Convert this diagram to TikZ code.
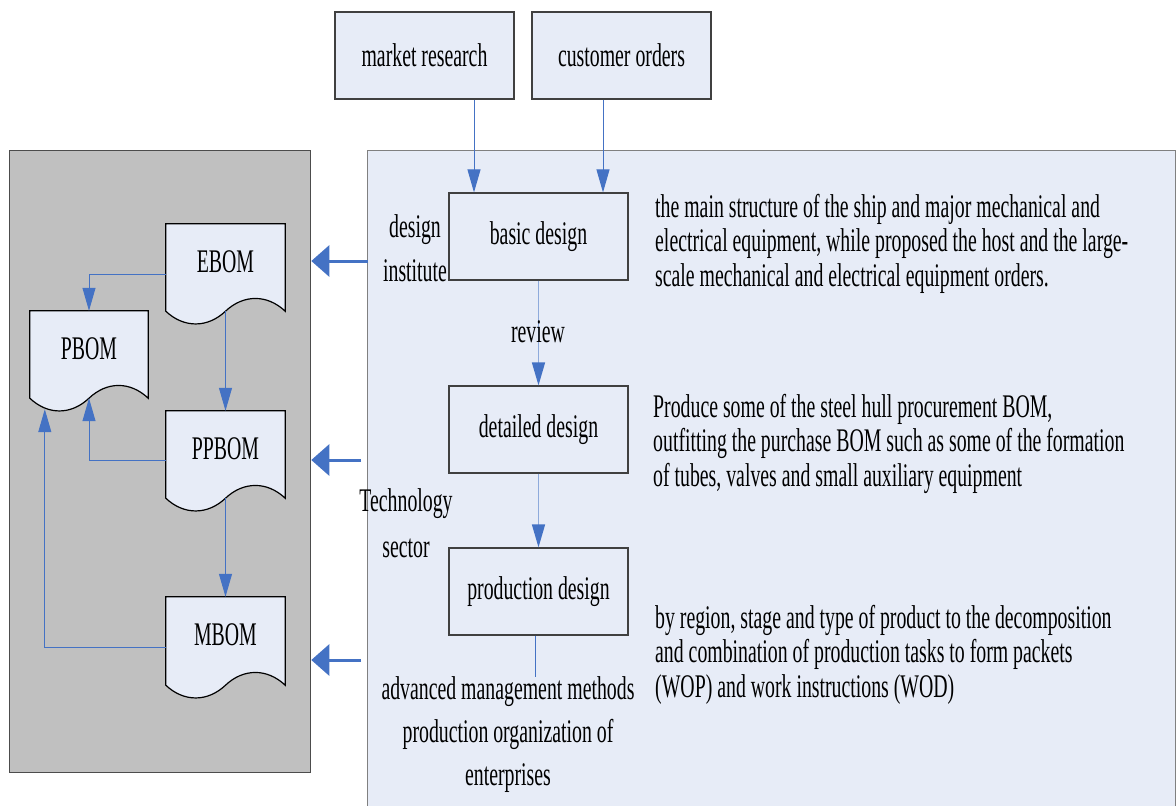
\documentclass[tikz,border=0pt]{standalone}
\usepackage{fontspec}
\setmainfont{Liberation Serif}[FakeStretch=0.6]
\usetikzlibrary{arrows.meta,calc}
\definecolor{boxfill}{RGB}{231,236,247}
\definecolor{grayfill}{RGB}{192,192,192}
\definecolor{arrowblue}{RGB}{68,114,196}
\definecolor{lightblue}{RGB}{142,170,219}
\definecolor{boxline}{RGB}{64,64,64}
\pgfdeclarelayer{background}
\pgfsetlayers{background,main}
\tikzset{
  txt/.style={font=\fontsize{33pt}{35pt}\selectfont},
  box/.style={txt, draw=boxline, line width=1.2pt, fill=boxfill, minimum width=179pt, minimum height=87pt, inner sep=0pt},
  docnode/.style={txt, minimum width=119pt, minimum height=87pt, inner sep=0pt, text depth=12pt},
  docshape/.style={draw=black, line width=1.2pt, fill=boxfill},
  conn/.style={draw=arrowblue, line width=1pt, -{Triangle[length=23pt,width=13pt,color=arrowblue]}},
  plainline/.style={draw=arrowblue, line width=1pt},
  bigarrow/.style={draw=arrowblue, line width=3pt, -{Triangle[length=18pt,width=31pt]}},
  lbl/.style={align=center, inner sep=0pt},
  para/.style={txt, align=left, anchor=base west, inner sep=0pt, font=\fontsize{33pt}{34.5pt}\selectfont},
}
\newcommand\docwave[1]{\path[docshape] (#1.north west) -- (#1.north east) -- (#1.south east)
  .. controls +(-18,-17) and +(18,-17) .. (#1.south)
  .. controls +(-18,17) and +(18,17) .. (#1.south west) -- cycle;}
\begin{document}
\begin{tikzpicture}[x=1pt,y=-1pt]
\useasboundingbox (0,0) rectangle (1176,806);
\begin{pgfonlayer}{background}
\node[draw=black!70, line width=1.3pt, fill=grayfill, anchor=north west, minimum width=301pt, minimum height=622pt, inner sep=0pt] (gray) at (9,150) {};
\node[draw=black!50, line width=1.3pt, fill=boxfill, anchor=north west, minimum width=808pt, minimum height=680pt, inner sep=0pt] (blue) at (367,150) {};
\end{pgfonlayer}

% documents
\node[docnode] (ebom) at (225.5,267.5) {EBOM};
\node[docnode, minimum width=118pt] (pbom) at (89,354.5) {PBOM};
\node[docnode] (ppbom) at (225.5,454.5) {PPBOM};
\node[docnode, minimum height=88pt] (mbom) at (225.5,641) {MBOM};
\begin{pgfonlayer}{background}
\docwave{ebom}
\docwave{pbom}
\docwave{ppbom}
\docwave{mbom}
\end{pgfonlayer}

\draw[conn] ([yshift=-6.5pt]ebom.west) -| (pbom.north);
\draw[conn] (ebom.south) -- (ppbom.north);
\draw[conn] ([yshift=-5.5pt]ppbom.west) -| (pbom.south);
\draw[conn] (ppbom.south) -- (mbom.north);
\draw[conn] ([yshift=-6pt]mbom.west) -| ([xshift=15pt,yshift=-11pt]pbom.south west);

% big arrows
\coordinate (s1) at (368,261);
\coordinate (s2) at (361,460);
\coordinate (s3) at (361,660);
\draw[bigarrow] (s1) -- (s1 -| gray.east);
\draw[bigarrow] (s2) -- (s2 -| gray.east);
\draw[bigarrow] (s3) -- (s3 -| gray.east);

% process boxes
\node[box] (mr) at (424.5,55.5) {market research};
\node[box] (co) at (621.5,55.5) {customer orders};
\node[box] (bd) at (538.5,236.5) {basic design};
\node[box] (dd) at (538.5,429.5) {detailed design};
\node[box] (pd) at (538.5,591.5) {production design};

\draw[conn] ([xshift=49.5pt]mr.south) -- ([xshift=49.5pt]mr.south |- bd.north);
\draw[conn] ([xshift=-18.5pt]co.south) -- ([xshift=-18.5pt]co.south |- bd.north);
\draw[conn, draw=lightblue, line width=1.5pt] (bd) -- (dd);
\draw[conn, draw=lightblue, line width=1.5pt] (dd) -- (pd);

% labels
\node[lbl, font=\fontsize{33pt}{44pt}\selectfont] (di) at (415,248) {design\\institute};
\node[lbl, font=\fontsize{33pt}{46pt}\selectfont] (ts) at (406,523) {Technology\\sector};
\node[lbl, txt] (rv) at (538,332) {review};
\node[lbl, font=\fontsize{33pt}{43pt}\selectfont] (adv) at (508,735) {advanced management methods\\production organization of\\enterprises};
\draw[plainline] ([xshift=-3pt]pd.south) -- ([xshift=-3pt]pd.south |- adv.north);

% paragraphs (base anchor = last line baseline)
\node[para] (p1) at (655,286) {the main structure of the ship and major mechanical and\\electrical equipment, while proposed the host and the large-\\scale mechanical and electrical equipment orders.};
\node[para] (p2) at (653,486) {Produce some of the steel hull procurement BOM,\\outfitting the purchase BOM such as some of the formation\\of tubes, valves and small auxiliary equipment};
\node[para] (p3) at (655,697) {by region, stage and type of product to the decomposition\\and combination of production tasks to form packets\\(WOP) and work instructions (WOD)};
\end{tikzpicture}
\end{document}
